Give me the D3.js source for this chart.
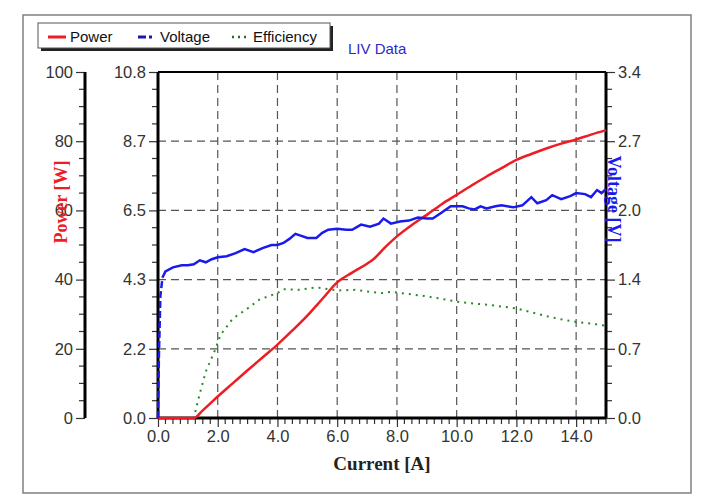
<!DOCTYPE html>
<html><head><meta charset="utf-8">
<script src="https://cdn.jsdelivr.net/npm/d3@7"></script>
<style>body{margin:0;background:#fff}svg{display:block}</style>
</head><body>
<script>
const powerCurrent = [0,0.5,1.0,1.2,1.5,2.0,2.5,3.0,3.5,4.0,4.5,5.0,5.5,6.0,6.5,7.0,7.2,7.6,8.0,8.5,9.0,9.5,10.0,10.5,11.0,11.5,12.0,12.5,13.0,13.5,14.0,14.5,15.0];
const powerValues  = [0,0,0,0,2.2,6.2,10.0,13.8,17.5,21.2,25.3,29.6,34.4,39.2,42.0,44.6,45.8,49.3,52.5,55.8,58.7,61.8,64.5,67.2,69.8,72.2,74.6,76.3,77.9,79.3,80.5,81.9,83.2];

const voltageCurrent = [0,0.03,0.08,0.15,0.25,0.5,0.8,1.0,1.2,1.4,1.6,1.8,2.0,2.3,2.6,2.9,3.2,3.5,3.8,4.0,4.2,4.4,4.6,4.8,5.0,5.3,5.5,5.7,6.0,6.3,6.5,6.8,7.1,7.4,7.55,7.8,8.1,8.4,8.7,9.0,9.2,9.5,9.8,10.0,10.2,10.4,10.6,10.8,11.0,11.3,11.5,11.9,12.2,12.5,12.7,13.0,13.2,13.5,13.8,14.0,14.3,14.5,14.7,14.85,15.0];
const voltageValues  = [0,0.6,1.2,1.38,1.44,1.48,1.50,1.50,1.51,1.55,1.53,1.56,1.58,1.59,1.62,1.66,1.63,1.67,1.70,1.70,1.72,1.76,1.81,1.79,1.77,1.77,1.82,1.85,1.86,1.85,1.85,1.90,1.88,1.91,1.96,1.91,1.93,1.94,1.97,1.96,1.96,2.02,2.08,2.08,2.08,2.06,2.05,2.08,2.06,2.08,2.09,2.07,2.09,2.17,2.11,2.14,2.19,2.15,2.18,2.21,2.20,2.17,2.24,2.21,2.25];

const effCurrent = [0,0.5,1.0,1.2,1.4,1.6,1.9,2.1,2.5,3.0,3.4,4.0,4.2,4.7,5.3,6.0,6.6,7.0,7.5,7.8,8.3,8.9,9.5,10.0,10.5,11.1,11.5,12.0,12.5,13.1,13.5,14.0,14.5,15.0];
const effValues  = [0,0,0,0,0.77,1.45,2.1,2.6,3.1,3.42,3.7,3.9,4.02,4.0,4.08,3.98,4.0,3.95,3.9,3.94,3.88,3.81,3.72,3.63,3.58,3.53,3.48,3.42,3.3,3.16,3.08,3.0,2.95,2.88];

const xTicks = [0,2,4,6,8,10,12,14];
const xTickLabels = ["0.0","2.0","4.0","6.0","8.0","10.0","12.0","14.0"];
const powerTicks = [0,20,40,60,80,100];
const powerTickLabels = ["0","20","40","60","80","100"];
const effTicks = [0,2.16,4.32,6.48,8.64,10.8];
const effTickLabels = ["0.0","2.2","4.3","6.5","8.7","10.8"];
const voltTicks = [0,0.68,1.36,2.04,2.72,3.4];
const voltTickLabels = ["0.0","0.7","1.4","2.0","2.7","3.4"];

const W=702,H=499;
const svg=d3.select("body").append("svg").attr("width",W).attr("height",H);
const L=158,R=606,T=72,B=418;
const x=d3.scaleLinear().domain([0,15]).range([L,R]);
const yP=d3.scaleLinear().domain([0,100]).range([B,T]);
const yE=d3.scaleLinear().domain([0,10.8]).range([B,T]);
const yV=d3.scaleLinear().domain([0,3.4]).range([B,T]);

// outer frame
svg.append("rect").attr("x",23).attr("y",15).attr("width",668).attr("height",478)
  .attr("fill","none").attr("stroke","#808080").attr("stroke-width",1.5);

// grid
const g=svg.append("g").attr("stroke","#555").attr("stroke-width",1.2).attr("stroke-dasharray","8,5");
xTicks.filter(d=>d>0).forEach(d=>g.append("line").attr("x1",x(d)).attr("x2",x(d)).attr("y1",T).attr("y2",B));
effTicks.filter(d=>d>0&&d<10.8).forEach(d=>g.append("line").attr("x1",L).attr("x2",R).attr("y1",yE(d)).attr("y2",yE(d)));

const tickFont="Liberation Sans, Arial, sans-serif";
function styleAxis(sel){
  sel.selectAll("text").attr("font-family",tickFont).attr("font-size",16.5).attr("fill","#333");
  sel.selectAll(".tick line").attr("stroke","#333").attr("stroke-width",1.2);
  sel.select(".domain").remove();
}
function minor(scale,vals,orient,pos,len){
  const gg=svg.append("g").attr("stroke","#333").attr("stroke-width",1.2);
  vals.forEach(v=>{
    if(orient==="left") gg.append("line").attr("x1",pos-len).attr("x2",pos).attr("y1",scale(v)).attr("y2",scale(v));
    else if(orient==="right") gg.append("line").attr("x1",pos).attr("x2",pos+len).attr("y1",scale(v)).attr("y2",scale(v));
    else gg.append("line").attr("x1",scale(v)).attr("x2",scale(v)).attr("y1",pos).attr("y2",pos+len);
  });
}

// power axis
const aP=svg.append("g").attr("transform","translate(85,0)")
  .call(d3.axisLeft(yP).tickValues(powerTicks).tickSize(9).tickPadding(3).tickFormat((d,i)=>powerTickLabels[i]));
styleAxis(aP);
minor(yP,d3.range(0,101,5).filter(v=>v%20!==0),"left",85,6);
svg.append("line").attr("x1",85).attr("x2",85).attr("y1",T).attr("y2",B).attr("stroke","#000").attr("stroke-width",3);

// efficiency axis (inner left)
const aE=svg.append("g").attr("transform",`translate(${L},0)`)
  .call(d3.axisLeft(yE).tickValues(effTicks).tickSize(9).tickPadding(3).tickFormat((d,i)=>effTickLabels[i]));
styleAxis(aE);
minor(yE,d3.range(0,20).map(i=>i*0.54).filter((v,i)=>i%4!==0),"left",L,6);

// voltage axis (right)
const aV=svg.append("g").attr("transform",`translate(${R},0)`)
  .call(d3.axisRight(yV).tickValues(voltTicks).tickSize(9).tickPadding(3).tickFormat((d,i)=>voltTickLabels[i]));
styleAxis(aV);
minor(yV,d3.range(0,20).map(i=>i*0.17).filter((v,i)=>i%4!==0),"right",R,6);

// x axis
const aX=svg.append("g").attr("transform",`translate(0,${B})`)
  .call(d3.axisBottom(x).tickValues(xTicks).tickSize(9).tickPadding(3).tickFormat((d,i)=>xTickLabels[i]));
styleAxis(aX);
minor(x,d3.range(0,61).map(i=>i*0.25).filter((v,i)=>i%8!==0),"bottom",B,6);

// plot border
svg.append("line").attr("x1",L).attr("x2",L).attr("y1",T).attr("y2",B).attr("stroke","#000").attr("stroke-width",3);
svg.append("line").attr("x1",R).attr("x2",R).attr("y1",T).attr("y2",B).attr("stroke","#000").attr("stroke-width",3);
svg.append("line").attr("x1",L).attr("x2",R).attr("y1",T).attr("y2",T).attr("stroke","#000").attr("stroke-width",2);
svg.append("line").attr("x1",L).attr("x2",R).attr("y1",B).attr("y2",B).attr("stroke","#000").attr("stroke-width",3);

// series
const effLine=d3.line().x((d,i)=>x(effCurrent[i])).y(d=>yE(d));
svg.append("path").datum(effValues).attr("d",effLine).attr("fill","none")
  .attr("stroke","#2a8a2a").attr("stroke-width",2).attr("stroke-dasharray","2,5");

const pLine=d3.line().x((d,i)=>x(powerCurrent[i])).y(d=>yP(d)).curve(d3.curveMonotoneX);
svg.append("path").datum(powerValues).attr("d",pLine).attr("fill","none")
  .attr("stroke","#ee1c24").attr("stroke-width",2.5);

const vIdx=d3.range(voltageCurrent.length);
const vLine=d3.line().x(i=>x(voltageCurrent[i])).y(i=>yV(voltageValues[i]));
svg.append("path").datum(vIdx.filter(i=>voltageCurrent[i]<=0.15)).attr("d",vLine).attr("fill","none")
  .attr("stroke","#1a1aee").attr("stroke-width",2.5).attr("stroke-dasharray","7,3");
svg.append("path").datum(vIdx.filter(i=>voltageCurrent[i]>=0.15)).attr("d",vLine).attr("fill","none")
  .attr("stroke","#1a1aee").attr("stroke-width",2.5);

// titles
const serif="Liberation Serif, Times New Roman, serif";
svg.append("text").attr("x",382).attr("y",470).attr("text-anchor","middle")
  .attr("font-family",serif).attr("font-weight","bold").attr("font-size",19).attr("fill","#222").text("Current [A]");
svg.append("text").attr("transform","translate(67,202) rotate(-90)").attr("text-anchor","middle")
  .attr("font-family",serif).attr("font-weight","bold").attr("font-size",18).attr("fill","#ee1c24").text("Power [W]");
svg.append("text").attr("transform","translate(608,199) rotate(90)").attr("text-anchor","middle")
  .attr("font-family",serif).attr("font-weight","bold").attr("font-size",18).attr("fill","#1a1aee").text("Voltage [V]");

// legend
svg.append("rect").attr("x",41).attr("y",26).attr("width",292).attr("height",25).attr("fill","#222");
svg.append("rect").attr("x",38).attr("y",23).attr("width",292).attr("height",25).attr("fill","#fff").attr("stroke","#555").attr("stroke-width",1);
const lg=svg.append("g").attr("font-family",tickFont).attr("font-size",15).attr("fill","#111");
lg.append("line").attr("x1",48).attr("x2",66).attr("y1",37).attr("y2",37).attr("stroke","#ee1c24").attr("stroke-width",3);
lg.append("text").attr("x",70).attr("y",42).text("Power");
lg.append("line").attr("x1",138).attr("x2",155).attr("y1",37).attr("y2",37).attr("stroke","#1a1aaa").attr("stroke-width",3).attr("stroke-dasharray","8,3,3,3");
lg.append("text").attr("x",160).attr("y",42).text("Voltage");
lg.append("line").attr("x1",232).attr("x2",250).attr("y1",37).attr("y2",37).attr("stroke","#2a6a2a").attr("stroke-width",2.5).attr("stroke-dasharray","2,4");
lg.append("text").attr("x",253).attr("y",42).text("Efficiency");

svg.append("text").attr("x",348).attr("y",54).attr("font-family",tickFont).attr("font-size",15)
  .attr("fill","#2a2acc").text("LIV Data");
</script>
</body></html>
